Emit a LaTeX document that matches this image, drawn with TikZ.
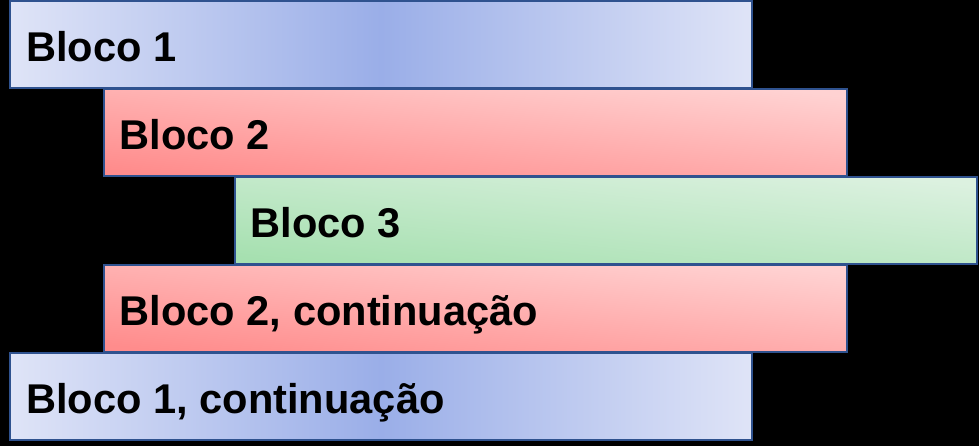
\documentclass[tikz,border=0pt]{standalone}
\usepackage{fontspec}
\setmainfont{Liberation Sans}
\definecolor{borderblue}{HTML}{2F528F}
\definecolor{blueedge}{HTML}{DFE4F7}
\definecolor{bluemid}{HTML}{9AAEE8}
\definecolor{redtop}{HTML}{FFD2D2}
\definecolor{redbot}{HTML}{FF8C8C}
\definecolor{greentop}{HTML}{DCF1E0}
\definecolor{greenbot}{HTML}{A6E0B0}
\begin{document}
\begin{tikzpicture}[x=1pt,y=-1pt,
  box/.style={draw=borderblue, line width=1.6pt},
  bluebox/.style={box, left color=blueedge, right color=blueedge, middle color=bluemid},
  redbox/.style={box, top color=redtop, bottom color=redbot, shading angle=-6},
  greenbox/.style={box, top color=greentop, bottom color=greenbot, shading angle=-6},
  lbl/.style={anchor=base west, inner sep=0pt, font=\fontsize{41.6}{48}\selectfont\bfseries, text=black}]
\fill[black] (0,0) rectangle (979,446);
\useasboundingbox (0,0) rectangle (979,446);
\path[bluebox] (10,1) rectangle (752,88);
\path[redbox] (104,89) rectangle (847,176);
\path[greenbox] (235,177) rectangle (977,264);
\path[redbox] (104,265) rectangle (847,352);
\path[bluebox] (10,353) rectangle (752,440);
\node[lbl] (b1) at (26,61.8) {Bloco 1};
\node[lbl] (b2) at (119.5,149.8) {Bloco 2};
\node[lbl] (b3) at (250.5,237.8) {Bloco 3};
\node[lbl] (b4) at (119.5,325.8) {Bloco 2, continuação};
\node[lbl] (b5) at (26,413.8) {Bloco 1, continuação};
\end{tikzpicture}
\end{document}
